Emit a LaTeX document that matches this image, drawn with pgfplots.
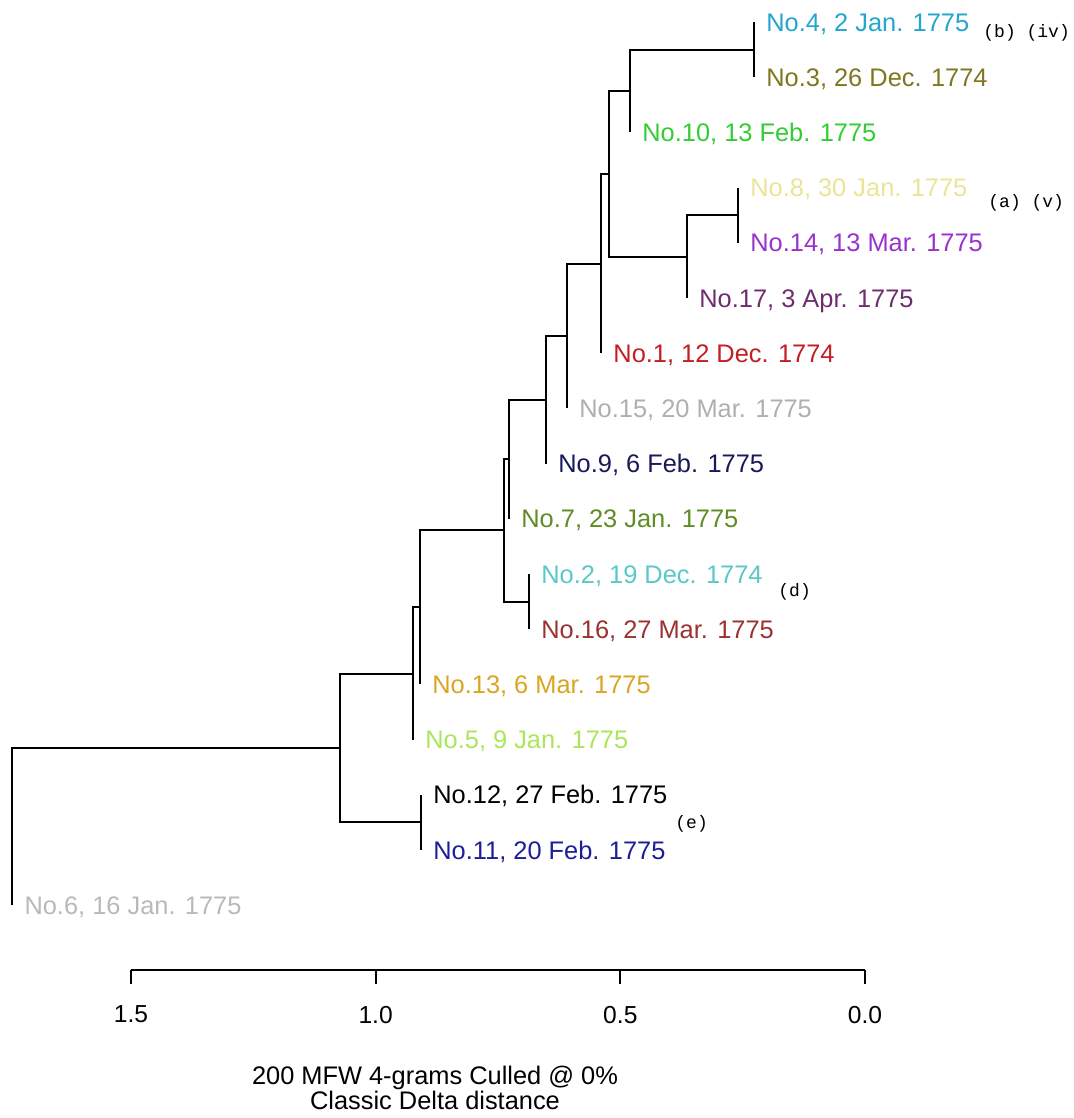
\documentclass[border=0pt]{standalone}
\usepackage{pgfplots}
\pgfplotsset{compat=1.18}
\usepackage{fontspec}
\setmainfont{Liberation Sans}
\newfontfamily\annfont{Liberation Mono}
\definecolor{c4}{RGB}{35,165,205}
\definecolor{c3}{RGB}{128,118,32}
\definecolor{c10}{RGB}{50,205,50}
\definecolor{c8}{RGB}{235,228,150}
\definecolor{c14}{RGB}{153,50,204}
\definecolor{c17}{RGB}{110,45,110}
\definecolor{c1}{RGB}{195,30,35}
\definecolor{c15}{RGB}{175,175,175}
\definecolor{c9}{RGB}{25,25,90}
\definecolor{c7}{RGB}{95,140,35}
\definecolor{c2}{RGB}{90,200,200}
\definecolor{c16}{RGB}{155,50,50}
\definecolor{c13}{RGB}{218,165,32}
\definecolor{c5}{RGB}{170,230,90}
\definecolor{c12}{RGB}{0,0,0}
\definecolor{c11}{RGB}{30,30,150}
\definecolor{c6}{RGB}{185,185,185}
\tikzset{lab/.style={anchor=base west, inner sep=0pt, xshift=6bp, yshift=-4.5bp, font=\fontsize{12.7bp}{15bp}\selectfont},
  ann/.style={anchor=west, inner sep=0pt, font=\annfont\fontsize{9bp}{10bp}\selectfont},
  br/.style={black, solid, line width=1bp, mark=none}}
\begin{document}
\begin{tikzpicture}
\begin{axis}[at={(0,0)}, anchor=south west, scale only axis,
  width=537bp, height=559bp,
  xmin=-0.4271, xmax=1.7678, x dir=reverse,
  ymin=0.6014, ymax=20.855, y dir=reverse,
  hide axis, clip=false]
% tree segments (x = distance, y = leaf position from top)
\addplot[br] coordinates {(0.2269,1) (0.2269,2)};
\addplot[br] coordinates {(0.2269,1.5) (0.4803,1.5) (0.4803,3)};
\addplot[br] coordinates {(0.2596,4) (0.2596,5)};
\addplot[br] coordinates {(0.2596,4.5) (0.3638,4.5) (0.3638,6)};
\addplot[br] coordinates {(0.4803,2.25) (0.5232,2.25) (0.5232,5.25) (0.3638,5.25)};
\addplot[br] coordinates {(0.5232,3.75) (0.5395,3.75) (0.5395,7)};
\addplot[br] coordinates {(0.5395,5.375) (0.6090,5.375) (0.6090,8)};
\addplot[br] coordinates {(0.6090,6.6875) (0.6520,6.6875) (0.6520,9)};
\addplot[br] coordinates {(0.6520,7.84375) (0.7276,7.84375) (0.7276,10)};
\addplot[br] coordinates {(0.6867,11) (0.6867,12)};
\addplot[br] coordinates {(0.7276,8.921875) (0.7378,8.921875) (0.7378,11.5) (0.6867,11.5)};
\addplot[br] coordinates {(0.7378,10.2109) (0.9095,10.2109) (0.9095,13)};
\addplot[br] coordinates {(0.9095,11.6055) (0.9238,11.6055) (0.9238,14)};
\addplot[br] coordinates {(0.9074,15) (0.9074,16)};
\addplot[br] coordinates {(0.9238,12.8027) (1.0730,12.8027) (1.0730,15.5) (0.9074,15.5)};
\addplot[br] coordinates {(1.0730,14.1514) (1.7430,14.1514) (1.7430,17)};
% leaf labels
\node[lab, text=c4]  at (axis cs:0.2269,1)  {No.4, 2 Jan. 1775};
\node[lab, text=c3]  at (axis cs:0.2269,2)  {No.3, 26 Dec. 1774};
\node[lab, text=c10] at (axis cs:0.4803,3)  {No.10, 13 Feb. 1775};
\node[lab, text=c8]  at (axis cs:0.2596,4)  {No.8, 30 Jan. 1775};
\node[lab, text=c14] at (axis cs:0.2596,5)  {No.14, 13 Mar. 1775};
\node[lab, text=c17] at (axis cs:0.3638,6)  {No.17, 3 Apr. 1775};
\node[lab, text=c1]  at (axis cs:0.5395,7)  {No.1, 12 Dec. 1774};
\node[lab, text=c15] at (axis cs:0.6090,8)  {No.15, 20 Mar. 1775};
\node[lab, text=c9]  at (axis cs:0.6520,9)  {No.9, 6 Feb. 1775};
\node[lab, text=c7]  at (axis cs:0.7276,10) {No.7, 23 Jan. 1775};
\node[lab, text=c2]  at (axis cs:0.6867,11) {No.2, 19 Dec. 1774};
\node[lab, text=c16] at (axis cs:0.6867,12) {No.16, 27 Mar. 1775};
\node[lab, text=c13] at (axis cs:0.9095,13) {No.13, 6 Mar. 1775};
\node[lab, text=c5]  at (axis cs:0.9238,14) {No.5, 9 Jan. 1775};
\node[lab, text=c12] at (axis cs:0.9074,15) {No.12, 27 Feb. 1775};
\node[lab, text=c11] at (axis cs:0.9074,16) {No.11, 20 Feb. 1775};
\node[lab, text=c6]  at (axis cs:1.7430,17) {No.6, 16 Jan. 1775};
% annotations
\node[ann] at (axis cs:-0.2412,1.199) {(b) (iv)};
\node[ann] at (axis cs:-0.2514,4.279) {(a) (v)};
\node[ann] at (axis cs:0.1778,11.326) {(d)};
\node[ann] at (axis cs:0.3883,15.53) {(e)};
% title
\node[align=center, inner sep=0pt, font=\fontsize{12.7bp}{12.2bp}\selectfont] at (axis cs:0.8788,20.31) {200 MFW 4-grams Culled @ 0\%\\Classic Delta distance};
\end{axis}
\begin{axis}[at={(65.5bp,74bp)}, anchor=south west, scale only axis,
  width=367bp, height=10bp,
  xmin=0, xmax=1.5, x dir=reverse, ymin=0, ymax=1,
  axis x line*=bottom, hide y axis,
  xtick={0,0.5,1,1.5}, tick align=outside, major tick length=7bp,
  x axis line style={line width=1bp, black},
  every tick/.style={line width=1bp, black},
  xticklabel style={font=\fontsize{12.3bp}{14bp}\selectfont, yshift=-7.5bp,
    /pgf/number format/fixed, /pgf/number format/fixed zerofill,
    /pgf/number format/precision=1, /pgf/number format/assume math mode=true}]
\addplot[draw=none] coordinates {(0,0.5) (1.5,0.5)};
\end{axis}
\pgfresetboundingbox
\path (0,0) rectangle (537bp,559bp);
\end{tikzpicture}
\end{document}
